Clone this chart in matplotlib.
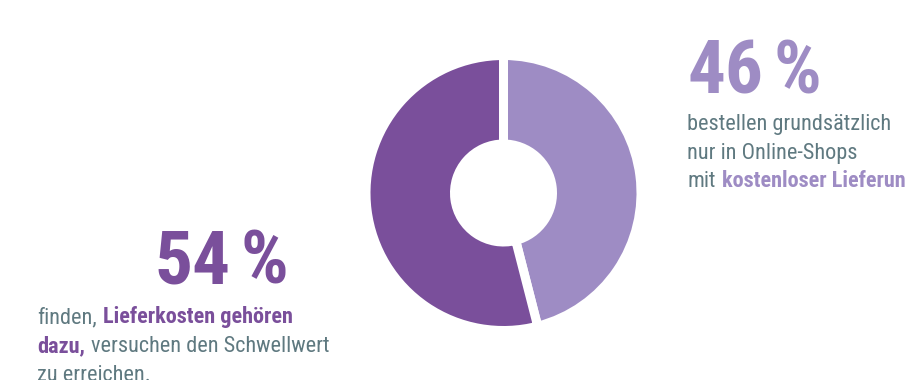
import matplotlib
matplotlib.use("Agg")
import matplotlib.pyplot as plt

# ---- data ----
labels = ["kostenlose Lieferung", "Lieferkosten gehören dazu"]
shares = [46, 54]
big_labels = ["46", "54"]
colors = ["#9E8CC4", "#7A4F9B"]
text_gray = "#5F7980"

FONT = ["Roboto Condensed", "DejaVu Sans"]

W, H = 905, 380
fig = plt.figure(figsize=(W / 100, H / 100), dpi=100)
ax = fig.add_axes([0, 0, 1, 1])

cx, cy = 503.5, H - 193
lw_px = 9
R_vis, r_vis = 133, 53.5
R = R_vis + lw_px / 2
r_in = r_vis - lw_px / 2
ax.pie(shares, colors=colors, startangle=90, counterclock=False,
       center=(cx, cy), radius=R,
       wedgeprops=dict(width=R - r_in, edgecolor="white", linewidth=lw_px * 72 / 100))
ax.set_xlim(0, W)
ax.set_ylim(0, H)
ax.set_aspect("auto")
ax.axis("off")

fig.canvas.draw()
renderer = fig.canvas.get_renderer()


def px_width(s, size, weight):
    t = ax.text(0, 0, s, fontsize=size, fontweight=weight, family=FONT)
    w = t.get_window_extent(renderer).width
    t.remove()
    return w


def rich(x, y_img, parts, size):
    """parts: list of (text, bold, color); y_img baseline in image coordinates.
    a part of None text is a gap given as a fraction of a space."""
    y = H - y_img
    for text, bold, color in parts:
        weight = "bold" if bold else "normal"
        if text is None:
            x += color * (px_width("x x", size, weight) - px_width("xx", size, weight))
            continue
        t = ax.text(x, y, text, fontsize=size, fontweight=weight, color=color,
                    family=FONT, va="baseline", ha="left")
        x += t.get_window_extent(renderer).width
    return x


BIG = 54
BODY = 16

# 46 % block (right)
rich(687, 93, [(big_labels[0], True, colors[0]), (None, True, 0.6), ("%", True, colors[0])], BIG)
rich(687, 130, [("bestellen grundsätzlich", False, text_gray)], BODY)
rich(687, 158.5, [("nur in Online-Shops", False, text_gray)], BODY)
rich(687, 187, [("mit", False, text_gray), (None, False, 1.2),
                ("kostenloser Lieferung", True, colors[0])], BODY)

# 54 % block (left)
rich(154, 283, [(big_labels[1], True, colors[1]), (None, True, 0.6), ("%", True, colors[1])], BIG)
rich(37, 323, [("finden,", False, text_gray), (None, False, 1.2),
               ("Lieferkosten gehören", True, colors[1])], BODY)
rich(37, 352, [("dazu,", True, colors[1]), (None, False, 1.2),
               ("versuchen den Schwellwert", False, text_gray)], BODY)
rich(37, 381, [("zu erreichen.", False, text_gray)], BODY)

fig.savefig("out.png", dpi=100)
